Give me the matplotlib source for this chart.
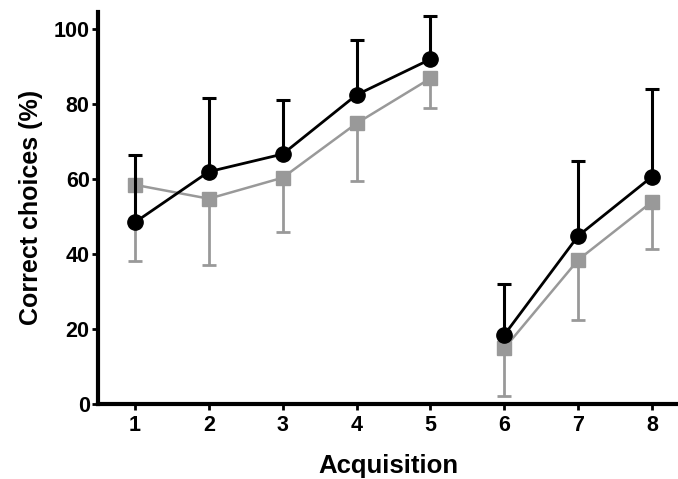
import numpy as np
import matplotlib.pyplot as plt

plt.rcParams['font.family'] = ['Liberation Sans', 'DejaVu Sans']
plt.rcParams['font.weight'] = 'bold'

# ----------------------------
# Data
# ----------------------------
sessions = np.array([1, 2, 3, 4, 5, 6, 7, 8])

black_mean = np.array([48.4, 61.9, 66.6, 82.4, 91.9, 18.4, 44.8, 60.6])
black_upper = np.array([66.3, 81.5, 81.1, 96.9, 103.5, 31.9, 64.8, 83.9])

gray_mean = np.array([58.4, 54.7, 60.3, 74.8, 86.8, 14.8, 38.4, 53.9])
gray_lower = np.array([38.2, 37.1, 45.7, 59.3, 78.8, 2.1, 22.4, 41.3])

# two blocks: acquisition 1-5 and 6-8 are not joined
blocks = [slice(0, 5), slice(5, 8)]

GRAY = "#999999"

fig = plt.figure(figsize=(6.78, 4.79), dpi=100)
ax = fig.add_axes([0.1445, 0.157, 0.8555, 0.818])

for b in blocks:
    x = sessions[b]
    # gray series, error bars downward
    ax.errorbar(x, gray_mean[b],
                yerr=[gray_mean[b] - gray_lower[b], np.zeros(len(x))],
                color=GRAY, ecolor=GRAY, elinewidth=2, capsize=5, capthick=2,
                marker="s", markersize=10, linewidth=1.8, zorder=2)
    # black series, error bars upward
    ax.errorbar(x, black_mean[b],
                yerr=[np.zeros(len(x)), black_upper[b] - black_mean[b]],
                color="black", ecolor="black", elinewidth=2.2, capsize=5, capthick=2.2,
                marker="o", markersize=11, linewidth=2, zorder=3)

ax.set_xlim(0.5, 8.35)
ax.set_ylim(0, 104.5)
ax.set_xticks(sessions)
ax.set_yticks([0, 20, 40, 60, 80, 100])

for side in ("top", "right"):
    ax.spines[side].set_visible(False)
for side in ("left", "bottom"):
    ax.spines[side].set_linewidth(3)

ax.tick_params(axis="both", length=4, width=2, labelsize=15.5, pad=2)
ax.tick_params(axis="x", pad=4)
for lab in ax.get_xticklabels() + ax.get_yticklabels():
    lab.set_fontweight("bold")

ax.set_xlabel("Acquisition", fontsize=18.5, fontweight="bold", labelpad=13)
ax.set_ylabel("Correct choices (%)", fontsize=18, fontweight="bold", labelpad=8)

fig.savefig("out.png", dpi=100)
